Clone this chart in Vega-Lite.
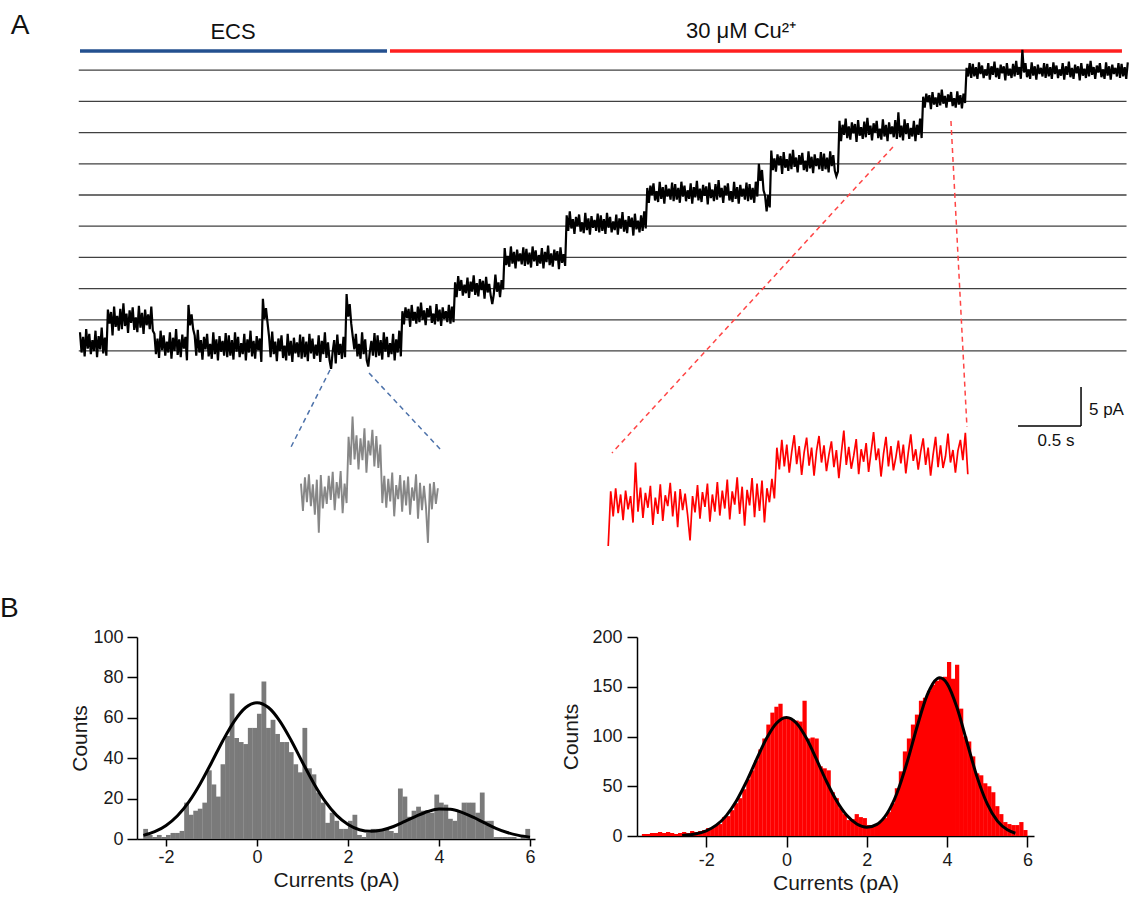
{
"$schema": "https://vega.github.io/schema/vega-lite/v6.json",
"padding": 0,
"background": "white",
"spacing": 35,
"config": {
 "view": {"stroke": null},
 "font": "Liberation Sans",
 "axis": {"domainColor": "#000", "tickColor": "#000", "domainWidth": 1.5, "tickWidth": 1.5, "labelFontSize": 18, "titleFontSize": 21, "titleFontWeight": "normal", "labelColor": "#1a1a1a", "titleColor": "#1a1a1a", "labelFont": "Liberation Sans", "titleFont": "Liberation Sans", "grid": false},
 "title": {"font": "Liberation Sans"}
},
"datasets": {
 "grid": [{"t":-10,"t2":8440,"v":0,"v2":0},{"t":-10,"t2":8440,"v":4,"v2":4},{"t":-10,"t2":8440,"v":8,"v2":8},{"t":-10,"t2":8440,"v":12,"v2":12},{"t":-10,"t2":8440,"v":16,"v2":16},{"t":-10,"t2":8440,"v":20,"v2":20},{"t":-10,"t2":8440,"v":24,"v2":24},{"t":-10,"t2":8440,"v":28,"v2":28},{"t":-10,"t2":8440,"v":32,"v2":32},{"t":-10,"t2":8440,"v":36,"v2":36}],
 "cond": [{"t":0,"t2":2476,"v":38.46,"v2":38.46,"g":"b"},{"t":2500,"t2":8403,"v":38.46,"v2":38.46,"g":"r"}],
 "conn": [{"t":2016,"v":-2.44,"t2":1702,"v2":-12.31,"g":"b"},{"t":2331,"v":-2.82,"t2":2911,"v2":-12.69,"g":"b"},{"t":6556,"v":26.15,"t2":4290,"v2":-13.08,"g":"r"},{"t":7024,"v":29.49,"t2":7153,"v2":-9.74,"g":"r"}],
 "sbar": [{"t":8073,"t2":8073,"v":-4.62,"v2":-9.62},{"t":7565,"t2":8073,"v":-9.62,"v2":-9.62}],
 "lab": [{"t":-484,"v":41.67,"txt":"A","k":"p"},{"t":1234,"v":40.9,"txt":"ECS","k":"c"},{"t":5331,"v":41.0,"txt":"30 μM Cu²⁺","k":"c"},{"t":8137,"v":-7.63,"txt":"5 pA","k":"l"},{"t":7871,"v":-11.6,"txt":"0.5 s","k":"s"}],
 "trace": [
{"t":0,"v":2.4},{"t":12.5,"v":-0.2},{"t":25,"v":1.8},{"t":37.5,"v":-0.7},{"t":50,"v":2.8},{"t":62.5,"v":0.3},{"t":75,"v":2.2},{"t":87.5,"v":-0.4},{"t":100,"v":1.4},{"t":112.5,"v":0.0},{"t":125,"v":2.6},{"t":137.5,"v":-0.8},{"t":150,"v":1.9},{"t":162.5,"v":0.2},{"t":175,"v":3.0},{"t":187.5,"v":-0.3},{"t":200,"v":1.7},{"t":212.5,"v":-0.6},
{"t":225,"v":5.3},{"t":237.5,"v":3.5},{"t":250,"v":5.0},{"t":262.5,"v":2.0},{"t":275,"v":5.7},{"t":287.5,"v":3.1},{"t":300,"v":4.5},{"t":312.5,"v":2.6},{"t":325,"v":5.4},{"t":337.5,"v":2.8},{"t":350,"v":6.1},{"t":362.5,"v":3.2},{"t":375,"v":4.8},{"t":387.5,"v":2.3},{"t":400,"v":5.2},{"t":412.5,"v":3.6},{"t":425,"v":5.6},{"t":437.5,"v":2.7},{"t":450,"v":4.3},{"t":462.5,"v":2.4},{"t":475,"v":5.8},{"t":487.5,"v":3.0},{"t":500,"v":4.9},{"t":512.5,"v":2.2},{"t":525,"v":5.3},{"t":537.5,"v":3.3},{"t":550,"v":4.7},{"t":562.5,"v":2.8},{"t":575,"v":5.7},{"t":587.5,"v":2.6},
{"t":600,"v":2.2},{"t":612.5,"v":-0.4},{"t":625,"v":1.6},{"t":637.5,"v":-0.9},{"t":650,"v":2.6},{"t":662.5,"v":0.1},{"t":675,"v":2.0},{"t":687.5,"v":-0.6},{"t":700,"v":1.2},{"t":712.5,"v":-0.2},{"t":725,"v":2.4},{"t":737.5,"v":-1.0},{"t":750,"v":1.7},{"t":762.5,"v":0.0},{"t":775,"v":2.8},{"t":787.5,"v":-0.5},{"t":800,"v":1.5},{"t":812.5,"v":-0.8},{"t":825,"v":2.1},{"t":837.5,"v":0.3},{"t":850,"v":1.8},{"t":862.5,"v":-1.2},
{"t":875,"v":5.9},{"t":887.5,"v":3.3},{"t":900,"v":4.7},{"t":912.5,"v":2.8},
{"t":925,"v":2.0},{"t":937.5,"v":-0.6},{"t":950,"v":2.7},{"t":962.5,"v":-0.2},{"t":975,"v":1.4},{"t":987.5,"v":-1.1},{"t":1000,"v":1.8},{"t":1012.5,"v":0.2},{"t":1025,"v":2.2},{"t":1037.5,"v":-0.7},{"t":1050,"v":0.9},{"t":1062.5,"v":-1.0},{"t":1075,"v":2.4},{"t":1087.5,"v":-0.4},{"t":1100,"v":1.5},{"t":1112.5,"v":-1.2},{"t":1125,"v":1.9},{"t":1137.5,"v":-0.1},{"t":1150,"v":1.3},{"t":1162.5,"v":-0.6},{"t":1175,"v":2.3},{"t":1187.5,"v":-0.8},{"t":1200,"v":2.0},{"t":1212.5,"v":-0.6},{"t":1225,"v":1.4},{"t":1237.5,"v":-1.1},{"t":1250,"v":2.4},{"t":1262.5,"v":-0.1},{"t":1275,"v":1.8},{"t":1287.5,"v":-0.8},{"t":1300,"v":1.0},{"t":1312.5,"v":-0.4},{"t":1325,"v":2.2},{"t":1337.5,"v":-1.2},{"t":1350,"v":1.5},{"t":1362.5,"v":-0.2},{"t":1375,"v":2.6},{"t":1387.5,"v":-0.7},{"t":1400,"v":1.3},{"t":1412.5,"v":-1.0},{"t":1425,"v":1.9},{"t":1437.5,"v":0.1},{"t":1450,"v":1.6},{"t":1462.5,"v":-1.4},
{"t":1475,"v":6.7},{"t":1487.5,"v":4.1},{"t":1500,"v":5.5},{"t":1512.5,"v":3.6},
{"t":1525,"v":1.8},{"t":1537.5,"v":-0.8},{"t":1550,"v":2.5},{"t":1562.5,"v":-0.4},{"t":1575,"v":1.2},{"t":1587.5,"v":-1.3},{"t":1600,"v":1.6},{"t":1612.5,"v":0.0},{"t":1625,"v":2.0},{"t":1637.5,"v":-0.9},{"t":1650,"v":0.7},{"t":1662.5,"v":-1.2},{"t":1675,"v":2.2},{"t":1687.5,"v":-0.6},{"t":1700,"v":1.3},{"t":1712.5,"v":-1.4},{"t":1725,"v":1.7},{"t":1737.5,"v":-0.3},{"t":1750,"v":1.1},{"t":1762.5,"v":-0.8},{"t":1775,"v":2.1},{"t":1787.5,"v":-1.0},{"t":1800,"v":1.8},{"t":1812.5,"v":-0.8},{"t":1825,"v":1.2},{"t":1837.5,"v":-1.3},{"t":1850,"v":2.2},{"t":1862.5,"v":-0.3},{"t":1875,"v":1.6},{"t":1887.5,"v":-1.0},{"t":1900,"v":0.8},{"t":1912.5,"v":-0.6},{"t":1925,"v":2.0},{"t":1937.5,"v":-1.4},{"t":1950,"v":1.3},{"t":1962.5,"v":-0.4},{"t":1975,"v":2.4},{"t":1987.5,"v":-0.9},{"t":2000,"v":1.1},{"t":2012.5,"v":-1.2},{"t":2025,"v":-2.3},{"t":2037.5,"v":-0.1},{"t":2050,"v":1.4},{"t":2062.5,"v":-1.6},{"t":2075,"v":2.1},{"t":2087.5,"v":-0.5},{"t":2100,"v":0.9},{"t":2112.5,"v":-1.0},{"t":2125,"v":1.8},{"t":2137.5,"v":-0.8},
{"t":2150,"v":7.3},{"t":2162.5,"v":4.4},{"t":2175,"v":6.0},{"t":2187.5,"v":3.5},
{"t":2200,"v":1.8},{"t":2212.5,"v":0.2},{"t":2225,"v":2.2},{"t":2237.5,"v":-0.7},{"t":2250,"v":0.9},{"t":2262.5,"v":-1.0},{"t":2275,"v":2.4},{"t":2287.5,"v":-0.4},{"t":2300,"v":1.5},{"t":2312.5,"v":-1.2},{"t":2325,"v":-2.0},{"t":2337.5,"v":-0.1},{"t":2350,"v":1.3},{"t":2362.5,"v":-0.6},{"t":2375,"v":2.3},{"t":2387.5,"v":-0.8},{"t":2400,"v":2.0},{"t":2412.5,"v":-0.6},{"t":2425,"v":1.4},{"t":2437.5,"v":-1.1},{"t":2450,"v":2.4},{"t":2462.5,"v":-0.1},{"t":2475,"v":1.8},{"t":2487.5,"v":-0.8},{"t":2500,"v":1.0},{"t":2512.5,"v":-0.4},{"t":2525,"v":2.2},{"t":2537.5,"v":-1.2},{"t":2550,"v":1.5},{"t":2562.5,"v":-0.2},{"t":2575,"v":2.6},{"t":2587.5,"v":-0.7},
{"t":2600,"v":5.1},{"t":2612.5,"v":3.4},{"t":2625,"v":5.6},{"t":2637.5,"v":4.2},{"t":2650,"v":5.4},{"t":2662.5,"v":3.1},{"t":2675,"v":5.9},{"t":2687.5,"v":3.9},{"t":2700,"v":5.0},{"t":2712.5,"v":3.5},{"t":2725,"v":5.7},{"t":2737.5,"v":3.7},{"t":2750,"v":6.2},{"t":2762.5,"v":4.0},{"t":2775,"v":5.2},{"t":2787.5,"v":3.3},{"t":2800,"v":5.5},{"t":2812.5,"v":4.3},{"t":2825,"v":5.8},{"t":2837.5,"v":3.6},{"t":2850,"v":4.8},{"t":2862.5,"v":3.4},{"t":2875,"v":6.0},{"t":2887.5,"v":3.8},{"t":2900,"v":5.3},{"t":2912.5,"v":3.2},{"t":2925,"v":5.6},{"t":2937.5,"v":4.1},{"t":2950,"v":5.1},{"t":2962.5,"v":3.7},{"t":2975,"v":5.9},{"t":2987.5,"v":3.5},{"t":3000,"v":5.7},{"t":3012.5,"v":3.7},
{"t":3025,"v":8.8},{"t":3037.5,"v":6.9},{"t":3050,"v":9.6},{"t":3062.5,"v":7.7},{"t":3075,"v":9.1},{"t":3087.5,"v":7.1},{"t":3100,"v":8.5},{"t":3112.5,"v":7.4},{"t":3125,"v":9.4},{"t":3137.5,"v":6.8},{"t":3150,"v":8.9},{"t":3162.5,"v":7.6},{"t":3175,"v":9.7},{"t":3187.5,"v":7.2},{"t":3200,"v":8.7},{"t":3212.5,"v":7.0},{"t":3225,"v":9.2},{"t":3237.5,"v":7.8},{"t":3250,"v":9.0},{"t":3262.5,"v":6.7},{"t":3275,"v":9.5},{"t":3287.5,"v":7.5},{"t":3300,"v":8.6},{"t":3312.5,"v":7.1},{"t":3325,"v":6.0},{"t":3337.5,"v":7.3},{"t":3350,"v":9.8},{"t":3362.5,"v":7.6},{"t":3375,"v":8.8},{"t":3387.5,"v":6.9},{"t":3400,"v":9.1},{"t":3412.5,"v":7.9},
{"t":3425,"v":13.2},{"t":3437.5,"v":11.0},{"t":3450,"v":12.2},{"t":3462.5,"v":10.8},{"t":3475,"v":13.4},{"t":3487.5,"v":11.2},{"t":3500,"v":12.7},{"t":3512.5,"v":10.6},{"t":3525,"v":13.0},{"t":3537.5,"v":11.5},{"t":3550,"v":12.5},{"t":3562.5,"v":11.1},{"t":3575,"v":13.3},{"t":3587.5,"v":10.9},{"t":3600,"v":13.1},{"t":3612.5,"v":11.1},{"t":3625,"v":12.6},{"t":3637.5,"v":10.7},{"t":3650,"v":13.4},{"t":3662.5,"v":11.5},{"t":3675,"v":12.9},{"t":3687.5,"v":10.9},{"t":3700,"v":12.3},{"t":3712.5,"v":11.2},{"t":3725,"v":13.2},{"t":3737.5,"v":10.6},{"t":3750,"v":12.7},{"t":3762.5,"v":11.4},{"t":3775,"v":13.5},{"t":3787.5,"v":11.0},{"t":3800,"v":12.5},{"t":3812.5,"v":10.8},{"t":3825,"v":13.0},{"t":3837.5,"v":11.6},{"t":3850,"v":12.8},{"t":3862.5,"v":10.5},{"t":3875,"v":13.3},{"t":3887.5,"v":11.3},{"t":3900,"v":12.4},{"t":3912.5,"v":10.9},
{"t":3925,"v":17.4},{"t":3937.5,"v":15.4},{"t":3950,"v":17.9},{"t":3962.5,"v":15.7},{"t":3975,"v":16.9},{"t":3987.5,"v":15.0},{"t":4000,"v":17.2},{"t":4012.5,"v":16.0},{"t":4025,"v":17.5},{"t":4037.5,"v":15.3},{"t":4050,"v":16.5},{"t":4062.5,"v":15.1},{"t":4075,"v":17.7},{"t":4087.5,"v":15.5},{"t":4100,"v":17.0},{"t":4112.5,"v":14.9},{"t":4125,"v":17.3},{"t":4137.5,"v":15.8},{"t":4150,"v":16.8},{"t":4162.5,"v":15.4},{"t":4175,"v":17.6},{"t":4187.5,"v":15.2},{"t":4200,"v":17.4},{"t":4212.5,"v":15.4},{"t":4225,"v":16.9},{"t":4237.5,"v":15.0},{"t":4250,"v":17.7},{"t":4262.5,"v":15.8},{"t":4275,"v":17.2},{"t":4287.5,"v":15.2},{"t":4300,"v":16.6},{"t":4312.5,"v":15.5},{"t":4325,"v":17.5},{"t":4337.5,"v":14.9},{"t":4350,"v":17.0},{"t":4362.5,"v":15.7},{"t":4375,"v":17.8},{"t":4387.5,"v":15.3},{"t":4400,"v":16.8},{"t":4412.5,"v":15.1},{"t":4425,"v":17.3},{"t":4437.5,"v":15.9},{"t":4450,"v":17.1},{"t":4462.5,"v":14.8},{"t":4475,"v":17.6},{"t":4487.5,"v":15.6},{"t":4500,"v":16.7},{"t":4512.5,"v":15.2},{"t":4525,"v":17.4},{"t":4537.5,"v":15.4},{"t":4550,"v":17.9},{"t":4562.5,"v":15.7},
{"t":4575,"v":20.9},{"t":4587.5,"v":19.0},{"t":4600,"v":21.2},{"t":4612.5,"v":20.0},{"t":4625,"v":21.5},{"t":4637.5,"v":19.3},{"t":4650,"v":20.5},{"t":4662.5,"v":19.1},{"t":4675,"v":21.7},{"t":4687.5,"v":19.5},{"t":4700,"v":21.0},{"t":4712.5,"v":18.9},{"t":4725,"v":21.3},{"t":4737.5,"v":19.8},{"t":4750,"v":20.8},{"t":4762.5,"v":19.4},{"t":4775,"v":21.6},{"t":4787.5,"v":19.2},{"t":4800,"v":21.4},{"t":4812.5,"v":19.4},{"t":4825,"v":20.9},{"t":4837.5,"v":19.0},{"t":4850,"v":21.7},{"t":4862.5,"v":19.8},{"t":4875,"v":21.2},{"t":4887.5,"v":19.2},{"t":4900,"v":20.6},{"t":4912.5,"v":19.5},{"t":4925,"v":21.5},{"t":4937.5,"v":18.9},{"t":4950,"v":21.0},{"t":4962.5,"v":19.7},{"t":4975,"v":21.8},{"t":4987.5,"v":19.3},{"t":5000,"v":20.8},{"t":5012.5,"v":19.1},{"t":5025,"v":21.3},{"t":5037.5,"v":19.9},{"t":5050,"v":21.1},{"t":5062.5,"v":18.8},{"t":5075,"v":21.6},{"t":5087.5,"v":19.6},{"t":5100,"v":20.7},{"t":5112.5,"v":19.2},{"t":5125,"v":21.4},{"t":5137.5,"v":19.4},{"t":5150,"v":21.9},{"t":5162.5,"v":19.7},{"t":5175,"v":20.9},{"t":5187.5,"v":19.0},{"t":5200,"v":21.2},{"t":5212.5,"v":20.0},{"t":5225,"v":21.5},{"t":5237.5,"v":19.3},{"t":5250,"v":20.5},{"t":5262.5,"v":19.1},{"t":5275,"v":21.7},{"t":5287.5,"v":19.5},{"t":5300,"v":21.0},{"t":5312.5,"v":18.9},{"t":5325,"v":21.3},{"t":5337.5,"v":19.8},{"t":5350,"v":20.8},{"t":5362.5,"v":19.4},{"t":5375,"v":21.6},{"t":5387.5,"v":19.2},{"t":5400,"v":21.4},{"t":5412.5,"v":19.4},{"t":5425,"v":20.9},{"t":5437.5,"v":19.0},{"t":5450,"v":21.7},{"t":5462.5,"v":19.8},
{"t":5475,"v":24.0},{"t":5487.5,"v":21.8},{"t":5500,"v":23.2},{"t":5512.5,"v":20.6},{"t":5525,"v":19.9},{"t":5537.5,"v":17.9},{"t":5550,"v":20.0},{"t":5562.5,"v":18.4},
{"t":5575,"v":25.7},{"t":5587.5,"v":23.2},{"t":5600,"v":24.7},{"t":5612.5,"v":23.0},{"t":5625,"v":25.2},{"t":5637.5,"v":23.8},{"t":5650,"v":25.0},{"t":5662.5,"v":22.7},{"t":5675,"v":25.5},{"t":5687.5,"v":23.5},{"t":5700,"v":24.6},{"t":5712.5,"v":23.1},{"t":5725,"v":25.3},{"t":5737.5,"v":23.3},{"t":5750,"v":25.8},{"t":5762.5,"v":23.6},{"t":5775,"v":24.8},{"t":5787.5,"v":22.9},{"t":5800,"v":25.1},{"t":5812.5,"v":23.9},{"t":5825,"v":25.4},{"t":5837.5,"v":23.2},{"t":5850,"v":24.4},{"t":5862.5,"v":23.0},{"t":5875,"v":25.6},{"t":5887.5,"v":23.4},{"t":5900,"v":24.9},{"t":5912.5,"v":22.8},{"t":5925,"v":25.2},{"t":5937.5,"v":23.7},{"t":5950,"v":24.7},{"t":5962.5,"v":23.3},{"t":5975,"v":25.5},{"t":5987.5,"v":23.1},{"t":6000,"v":25.3},{"t":6012.5,"v":23.3},{"t":6025,"v":24.8},{"t":6037.5,"v":22.9},{"t":6050,"v":25.6},{"t":6062.5,"v":23.7},{"t":6075,"v":25.1},{"t":6087.5,"v":23.1},{"t":6100,"v":22.4},{"t":6112.5,"v":23.0},
{"t":6125,"v":29.5},{"t":6137.5,"v":26.9},{"t":6150,"v":29.0},{"t":6162.5,"v":27.7},{"t":6175,"v":29.8},{"t":6187.5,"v":27.3},{"t":6200,"v":28.8},{"t":6212.5,"v":27.1},{"t":6225,"v":29.3},{"t":6237.5,"v":27.9},{"t":6250,"v":29.1},{"t":6262.5,"v":26.8},{"t":6275,"v":29.6},{"t":6287.5,"v":27.6},{"t":6300,"v":28.7},{"t":6312.5,"v":27.2},{"t":6325,"v":29.4},{"t":6337.5,"v":27.4},{"t":6350,"v":29.9},{"t":6362.5,"v":27.7},{"t":6375,"v":28.9},{"t":6387.5,"v":27.0},{"t":6400,"v":29.2},{"t":6412.5,"v":28.0},{"t":6425,"v":29.5},{"t":6437.5,"v":27.3},{"t":6450,"v":28.5},{"t":6462.5,"v":27.1},{"t":6475,"v":29.7},{"t":6487.5,"v":27.5},{"t":6500,"v":29.0},{"t":6512.5,"v":26.9},{"t":6525,"v":29.3},{"t":6537.5,"v":27.8},{"t":6550,"v":28.8},{"t":6562.5,"v":27.4},{"t":6575,"v":29.6},{"t":6587.5,"v":27.2},{"t":6600,"v":30.6},{"t":6612.5,"v":27.4},{"t":6625,"v":28.9},{"t":6637.5,"v":27.0},{"t":6650,"v":29.7},{"t":6662.5,"v":27.8},{"t":6675,"v":29.2},{"t":6687.5,"v":27.2},{"t":6700,"v":28.6},{"t":6712.5,"v":27.5},{"t":6725,"v":29.5},{"t":6737.5,"v":26.9},{"t":6750,"v":29.0},{"t":6762.5,"v":27.7},{"t":6775,"v":29.8},{"t":6787.5,"v":27.3},
{"t":6800,"v":32.6},{"t":6812.5,"v":31.2},{"t":6825,"v":33.0},{"t":6837.5,"v":31.9},{"t":6850,"v":32.8},{"t":6862.5,"v":31.0},{"t":6875,"v":33.2},{"t":6887.5,"v":31.6},{"t":6900,"v":32.5},{"t":6912.5,"v":31.3},{"t":6925,"v":33.1},{"t":6937.5,"v":31.5},{"t":6950,"v":33.5},{"t":6962.5,"v":31.7},{"t":6975,"v":32.7},{"t":6987.5,"v":31.2},{"t":7000,"v":32.9},{"t":7012.5,"v":32.0},{"t":7025,"v":33.2},{"t":7037.5,"v":31.4},{"t":7050,"v":32.4},{"t":7062.5,"v":31.2},{"t":7075,"v":33.3},{"t":7087.5,"v":31.6},{"t":7100,"v":32.8},{"t":7112.5,"v":31.1},{"t":7125,"v":33.0},{"t":7137.5,"v":31.8},
{"t":7150,"v":36.3},{"t":7162.5,"v":35.2},{"t":7175,"v":36.9},{"t":7187.5,"v":35.0},{"t":7200,"v":36.8},{"t":7212.5,"v":35.2},{"t":7225,"v":36.4},{"t":7237.5,"v":34.9},{"t":7250,"v":37.0},{"t":7262.5,"v":35.5},{"t":7275,"v":36.6},{"t":7287.5,"v":35.0},{"t":7300,"v":36.1},{"t":7312.5,"v":35.3},{"t":7325,"v":36.9},{"t":7337.5,"v":34.8},{"t":7350,"v":36.5},{"t":7362.5,"v":35.4},{"t":7375,"v":37.1},{"t":7387.5,"v":35.1},{"t":7400,"v":36.3},{"t":7412.5,"v":34.9},{"t":7425,"v":36.7},{"t":7437.5,"v":35.6},{"t":7450,"v":36.5},{"t":7462.5,"v":34.7},{"t":7475,"v":36.9},{"t":7487.5,"v":35.3},{"t":7500,"v":36.2},{"t":7512.5,"v":35.0},{"t":7525,"v":36.8},{"t":7537.5,"v":35.2},{"t":7550,"v":37.2},{"t":7562.5,"v":35.4},{"t":7575,"v":36.4},{"t":7587.5,"v":34.9},{"t":7600,"v":38.6},{"t":7612.5,"v":35.7},{"t":7625,"v":36.9},{"t":7637.5,"v":35.1},{"t":7650,"v":36.1},{"t":7662.5,"v":34.9},{"t":7675,"v":37.0},{"t":7687.5,"v":35.3},{"t":7700,"v":36.5},{"t":7712.5,"v":34.8},{"t":7725,"v":36.7},{"t":7737.5,"v":35.5},{"t":7750,"v":36.3},{"t":7762.5,"v":35.2},{"t":7775,"v":36.9},{"t":7787.5,"v":35.0},{"t":7800,"v":36.8},{"t":7812.5,"v":35.2},{"t":7825,"v":36.4},{"t":7837.5,"v":34.9},{"t":7850,"v":37.0},{"t":7862.5,"v":35.5},{"t":7875,"v":36.6},{"t":7887.5,"v":35.0},{"t":7900,"v":36.1},{"t":7912.5,"v":35.3},{"t":7925,"v":36.9},{"t":7937.5,"v":34.8},{"t":7950,"v":36.5},{"t":7962.5,"v":35.4},{"t":7975,"v":37.1},{"t":7987.5,"v":35.1},{"t":8000,"v":36.3},{"t":8012.5,"v":34.9},{"t":8025,"v":36.7},{"t":8037.5,"v":35.6},{"t":8050,"v":36.5},{"t":8062.5,"v":34.7},{"t":8075,"v":36.9},{"t":8087.5,"v":35.3},{"t":8100,"v":36.2},{"t":8112.5,"v":35.0},{"t":8125,"v":36.8},{"t":8137.5,"v":35.2},{"t":8150,"v":37.2},{"t":8162.5,"v":35.4},{"t":8175,"v":36.4},{"t":8187.5,"v":34.9},{"t":8200,"v":36.6},{"t":8212.5,"v":35.7},{"t":8225,"v":36.9},{"t":8237.5,"v":35.1},{"t":8250,"v":36.1},{"t":8262.5,"v":34.9},{"t":8275,"v":37.0},{"t":8287.5,"v":35.3},{"t":8300,"v":36.5},{"t":8312.5,"v":34.8},{"t":8325,"v":36.7},{"t":8337.5,"v":35.5},{"t":8350,"v":36.3},{"t":8362.5,"v":35.2},{"t":8375,"v":36.9},{"t":8387.5,"v":35.0},{"t":8400,"v":36.8},{"t":8412.5,"v":35.2},{"t":8425,"v":36.4},{"t":8437.5,"v":34.9},{"t":8450,"v":37.0}],
 "gray": [
{"t":1782,"v":-17.0},{"t":1798,"v":-20.5},{"t":1814,"v":-16.2},{"t":1830,"v":-19.4},{"t":1846,"v":-15.8},{"t":1862,"v":-19.9},{"t":1878,"v":-17.1},{"t":1894,"v":-21.0},{"t":1910,"v":-16.5},{"t":1926,"v":-23.3},{"t":1942,"v":-15.9},{"t":1958,"v":-20.2},{"t":1974,"v":-17.4},{"t":1990,"v":-19.6},{"t":2006,"v":-16.0},{"t":2022,"v":-19.1},{"t":2038,"v":-15.5},{"t":2054,"v":-20.4},{"t":2070,"v":-16.8},{"t":2086,"v":-18.9},{"t":2102,"v":-15.4},{"t":2118,"v":-20.8},{"t":2134,"v":-17.0},{"t":2150,"v":-19.5},{"t":2166,"v":-11.0},{"t":2182,"v":-14.6},{"t":2198,"v":-8.4},{"t":2214,"v":-13.9},{"t":2230,"v":-10.8},{"t":2246,"v":-15.2},{"t":2262,"v":-11.2},{"t":2278,"v":-14.0},{"t":2294,"v":-9.9},{"t":2310,"v":-15.6},{"t":2326,"v":-11.5},{"t":2342,"v":-13.4},{"t":2358,"v":-10.1},{"t":2374,"v":-14.8},{"t":2390,"v":-10.9},{"t":2406,"v":-15.0},{"t":2422,"v":-12.0},{"t":2438,"v":-19.5},{"t":2454,"v":-16.0},{"t":2470,"v":-20.1},{"t":2486,"v":-16.4},{"t":2502,"v":-19.3},{"t":2518,"v":-15.6},{"t":2534,"v":-21.2},{"t":2550,"v":-17.2},{"t":2566,"v":-19.0},{"t":2582,"v":-15.9},{"t":2598,"v":-20.6},{"t":2614,"v":-16.6},{"t":2630,"v":-19.8},{"t":2646,"v":-16.1},{"t":2662,"v":-21.0},{"t":2678,"v":-17.5},{"t":2694,"v":-19.2},{"t":2710,"v":-15.8},{"t":2726,"v":-21.5},{"t":2742,"v":-16.9},{"t":2758,"v":-20.4},{"t":2774,"v":-17.3},{"t":2790,"v":-20.0},{"t":2806,"v":-24.6},{"t":2822,"v":-17.0},{"t":2838,"v":-20.3},{"t":2854,"v":-16.8},{"t":2870,"v":-19.6},{"t":2886,"v":-17.6}],
 "red": [
{"t":4260,"v":-25.0},{"t":4280,"v":-18.0},{"t":4300,"v":-21.2},{"t":4320,"v":-17.6},{"t":4340,"v":-20.8},{"t":4360,"v":-18.4},{"t":4380,"v":-21.7},{"t":4400,"v":-17.9},{"t":4420,"v":-20.3},{"t":4440,"v":-18.6},{"t":4460,"v":-22.0},{"t":4480,"v":-14.3},{"t":4500,"v":-20.6},{"t":4520,"v":-17.5},{"t":4540,"v":-21.4},{"t":4560,"v":-18.2},{"t":4580,"v":-20.1},{"t":4600,"v":-17.3},{"t":4620,"v":-22.3},{"t":4640,"v":-18.8},{"t":4660,"v":-20.9},{"t":4680,"v":-17.1},{"t":4700,"v":-21.8},{"t":4720,"v":-18.5},{"t":4740,"v":-19.9},{"t":4760,"v":-16.9},{"t":4780,"v":-21.2},{"t":4800,"v":-18.0},{"t":4820,"v":-22.6},{"t":4840,"v":-17.7},{"t":4860,"v":-20.4},{"t":4880,"v":-18.3},{"t":4900,"v":-21.0},{"t":4920,"v":-24.3},{"t":4940,"v":-18.6},{"t":4960,"v":-20.7},{"t":4980,"v":-17.2},{"t":5000,"v":-21.5},{"t":5020,"v":-18.1},{"t":5040,"v":-20.0},{"t":5060,"v":-17.0},{"t":5080,"v":-21.9},{"t":5100,"v":-18.4},{"t":5120,"v":-20.6},{"t":5140,"v":-16.8},{"t":5160,"v":-21.1},{"t":5180,"v":-17.9},{"t":5200,"v":-20.2},{"t":5220,"v":-16.5},{"t":5240,"v":-21.6},{"t":5260,"v":-18.0},{"t":5280,"v":-19.7},{"t":5300,"v":-16.2},{"t":5320,"v":-20.9},{"t":5340,"v":-17.4},{"t":5360,"v":-22.4},{"t":5380,"v":-17.8},{"t":5400,"v":-19.8},{"t":5420,"v":-16.3},{"t":5440,"v":-21.3},{"t":5460,"v":-17.0},{"t":5480,"v":-20.5},{"t":5500,"v":-16.6},{"t":5520,"v":-22.0},{"t":5540,"v":-17.6},{"t":5560,"v":-19.4},{"t":5580,"v":-16.4},{"t":5600,"v":-18.9},{"t":5620,"v":-12.4},{"t":5640,"v":-15.2},{"t":5660,"v":-11.4},{"t":5680,"v":-14.8},{"t":5700,"v":-12.0},{"t":5720,"v":-15.6},{"t":5740,"v":-12.9},{"t":5760,"v":-10.8},{"t":5780,"v":-14.5},{"t":5800,"v":-12.2},{"t":5820,"v":-15.9},{"t":5840,"v":-13.0},{"t":5860,"v":-11.1},{"t":5880,"v":-14.7},{"t":5900,"v":-12.4},{"t":5920,"v":-16.0},{"t":5940,"v":-12.8},{"t":5960,"v":-10.9},{"t":5980,"v":-14.3},{"t":6000,"v":-12.1},{"t":6020,"v":-15.4},{"t":6040,"v":-13.3},{"t":6060,"v":-11.6},{"t":6080,"v":-14.9},{"t":6100,"v":-12.7},{"t":6120,"v":-16.3},{"t":6140,"v":-13.1},{"t":6160,"v":-10.2},{"t":6180,"v":-14.6},{"t":6200,"v":-12.3},{"t":6220,"v":-15.1},{"t":6240,"v":-13.4},{"t":6260,"v":-11.3},{"t":6280,"v":-15.8},{"t":6300,"v":-12.6},{"t":6320,"v":-14.2},{"t":6340,"v":-11.8},{"t":6360,"v":-15.5},{"t":6380,"v":-12.9},{"t":6400,"v":-10.4},{"t":6420,"v":-14.0},{"t":6440,"v":-12.5},{"t":6460,"v":-16.1},{"t":6480,"v":-13.2},{"t":6500,"v":-11.0},{"t":6520,"v":-14.8},{"t":6540,"v":-12.2},{"t":6560,"v":-15.3},{"t":6580,"v":-13.6},{"t":6600,"v":-11.5},{"t":6620,"v":-14.4},{"t":6640,"v":-12.0},{"t":6660,"v":-15.7},{"t":6680,"v":-13.0},{"t":6700,"v":-10.7},{"t":6720,"v":-14.1},{"t":6740,"v":-12.6},{"t":6760,"v":-15.2},{"t":6780,"v":-12.9},{"t":6800,"v":-11.2},{"t":6820,"v":-14.6},{"t":6840,"v":-12.4},{"t":6860,"v":-16.0},{"t":6880,"v":-13.3},{"t":6900,"v":-11.0},{"t":6920,"v":-14.9},{"t":6940,"v":-12.1},{"t":6960,"v":-15.0},{"t":6980,"v":-13.5},{"t":7000,"v":-10.6},{"t":7020,"v":-14.3},{"t":7040,"v":-12.7},{"t":7060,"v":-15.6},{"t":7080,"v":-12.8},{"t":7100,"v":-11.4},{"t":7120,"v":-14.0},{"t":7140,"v":-10.5},{"t":7160,"v":-15.8}],
 "hl": [{"x":-2.45,"c":5},{"x":-2.35,"c":2},{"x":-2.25,"c":1},{"x":-2.15,"c":2},{"x":-2.05,"c":1},{"x":-1.95,"c":2},{"x":-1.85,"c":3},{"x":-1.75,"c":3},{"x":-1.65,"c":4},{"x":-1.55,"c":18},{"x":-1.45,"c":12},{"x":-1.35,"c":14},{"x":-1.25,"c":15},{"x":-1.15,"c":18},{"x":-1.05,"c":34},{"x":-0.95,"c":27},{"x":-0.85,"c":21},{"x":-0.75,"c":37},{"x":-0.65,"c":51},{"x":-0.55,"c":72},{"x":-0.45,"c":50},{"x":-0.35,"c":48},{"x":-0.25,"c":47},{"x":-0.15,"c":55},{"x":-0.05,"c":55},{"x":0.05,"c":62},{"x":0.15,"c":78},{"x":0.25,"c":55},{"x":0.35,"c":59},{"x":0.45,"c":52},{"x":0.55,"c":48},{"x":0.65,"c":48},{"x":0.75,"c":43},{"x":0.85,"c":37},{"x":0.95,"c":33},{"x":1.05,"c":55},{"x":1.15,"c":35},{"x":1.25,"c":32},{"x":1.35,"c":23},{"x":1.45,"c":18},{"x":1.55,"c":8},{"x":1.65,"c":13},{"x":1.75,"c":9},{"x":1.85,"c":5},{"x":1.95,"c":5},{"x":2.05,"c":9},{"x":2.15,"c":12},{"x":2.25,"c":2},{"x":2.35,"c":1},{"x":2.45,"c":3},{"x":2.55,"c":5},{"x":2.65,"c":5},{"x":2.75,"c":4},{"x":2.85,"c":5},{"x":2.95,"c":4},{"x":3.05,"c":3},{"x":3.15,"c":25},{"x":3.25,"c":21},{"x":3.35,"c":11},{"x":3.45,"c":14},{"x":3.55,"c":16},{"x":3.65,"c":14},{"x":3.75,"c":14},{"x":3.85,"c":13},{"x":3.95,"c":22},{"x":4.05,"c":18},{"x":4.15,"c":17},{"x":4.25,"c":10},{"x":4.35,"c":9},{"x":4.45,"c":14},{"x":4.55,"c":18},{"x":4.65,"c":18},{"x":4.75,"c":18},{"x":4.85,"c":13},{"x":4.95,"c":23},{"x":5.05,"c":9},{"x":5.15,"c":9},{"x":5.25,"c":1},{"x":5.35,"c":1},{"x":5.45,"c":1},{"x":5.55,"c":1},{"x":5.65,"c":1},{"x":5.75,"c":0},{"x":5.85,"c":1},{"x":5.95,"c":5}],
 "hlfit": [{"x":-2.5,"c":1.8},{"x":-2.25,"c":3.6},{"x":-2.0,"c":6.7},{"x":-1.75,"c":11.5},{"x":-1.5,"c":18.4},{"x":-1.25,"c":27.4},{"x":-1.0,"c":37.9},{"x":-0.75,"c":48.8},{"x":-0.5,"c":58.4},{"x":-0.25,"c":65.1},{"x":0,"c":67.5},{"x":0.25,"c":65.1},{"x":0.5,"c":58.4},{"x":0.75,"c":48.8},{"x":1.0,"c":37.9},{"x":1.25,"c":27.4},{"x":1.5,"c":18.5},{"x":1.75,"c":11.7},{"x":2.0,"c":7.2},{"x":2.25,"c":4.6},{"x":2.5,"c":3.8},{"x":2.75,"c":4.5},{"x":3.0,"c":6.2},{"x":3.25,"c":8.7},{"x":3.5,"c":11.3},{"x":3.75,"c":13.6},{"x":4.0,"c":14.9},{"x":4.25,"c":14.7},{"x":4.5,"c":13.2},{"x":4.75,"c":10.8},{"x":5.0,"c":8.0},{"x":5.25,"c":5.3},{"x":5.5,"c":3.2},{"x":5.75,"c":1.8},{"x":6.0,"c":0.9}],
 "hr": [{"x":-3.55,"c":2},{"x":-3.45,"c":2},{"x":-3.35,"c":3},{"x":-3.25,"c":3},{"x":-3.15,"c":4},{"x":-3.05,"c":3},{"x":-2.95,"c":4},{"x":-2.85,"c":3},{"x":-2.75,"c":2},{"x":-2.65,"c":3},{"x":-2.55,"c":4},{"x":-2.45,"c":3},{"x":-2.35,"c":5},{"x":-2.25,"c":4},{"x":-2.15,"c":5},{"x":-2.05,"c":6},{"x":-1.95,"c":8},{"x":-1.85,"c":8},{"x":-1.75,"c":11},{"x":-1.65,"c":12},{"x":-1.55,"c":19},{"x":-1.45,"c":20},{"x":-1.35,"c":26},{"x":-1.25,"c":33},{"x":-1.15,"c":38},{"x":-1.05,"c":47},{"x":-0.95,"c":57},{"x":-0.85,"c":66},{"x":-0.75,"c":76},{"x":-0.65,"c":87},{"x":-0.55,"c":98},{"x":-0.45,"c":112},{"x":-0.35,"c":124},{"x":-0.25,"c":130},{"x":-0.15,"c":133},{"x":-0.05,"c":120},{"x":0.05,"c":118},{"x":0.15,"c":117},{"x":0.25,"c":116},{"x":0.35,"c":115},{"x":0.45,"c":136},{"x":0.55,"c":98},{"x":0.65,"c":99},{"x":0.75,"c":98},{"x":0.85,"c":70},{"x":0.95,"c":68},{"x":1.05,"c":66},{"x":1.15,"c":44},{"x":1.25,"c":38},{"x":1.35,"c":28},{"x":1.45,"c":22},{"x":1.55,"c":16},{"x":1.65,"c":17},{"x":1.75,"c":22},{"x":1.85,"c":19},{"x":1.95,"c":18},{"x":2.05,"c":11},{"x":2.15,"c":10},{"x":2.25,"c":12},{"x":2.35,"c":15},{"x":2.45,"c":18},{"x":2.55,"c":24},{"x":2.65,"c":33},{"x":2.75,"c":48},{"x":2.85,"c":65},{"x":2.95,"c":85},{"x":3.05,"c":98},{"x":3.15,"c":112},{"x":3.25,"c":122},{"x":3.35,"c":136},{"x":3.45,"c":139},{"x":3.55,"c":146},{"x":3.65,"c":152},{"x":3.75,"c":156},{"x":3.85,"c":159},{"x":3.95,"c":160},{"x":4.05,"c":175},{"x":4.15,"c":158},{"x":4.25,"c":172},{"x":4.35,"c":128},{"x":4.45,"c":100},{"x":4.55,"c":95},{"x":4.65,"c":80},{"x":4.75,"c":63},{"x":4.85,"c":61},{"x":4.95,"c":53},{"x":5.05,"c":50},{"x":5.15,"c":44},{"x":5.25,"c":30},{"x":5.35,"c":22},{"x":5.45,"c":14},{"x":5.55,"c":12},{"x":5.65,"c":11},{"x":5.75,"c":11},{"x":5.85,"c":14},{"x":5.95,"c":6}],
 "hrfit": [{"x":-2.6,"c":0.6},{"x":-2.25,"c":2.3},{"x":-2.0,"c":5.2},{"x":-1.75,"c":10.9},{"x":-1.5,"c":20.5},{"x":-1.25,"c":35.1},{"x":-1.0,"c":54.5},{"x":-0.75,"c":76.7},{"x":-0.5,"c":97.9},{"x":-0.25,"c":113.3},{"x":0,"c":119},{"x":0.25,"c":113.3},{"x":0.5,"c":97.9},{"x":0.75,"c":76.7},{"x":1.0,"c":54.5},{"x":1.25,"c":35.2},{"x":1.5,"c":20.8},{"x":1.75,"c":12.1},{"x":2.0,"c":8.8},{"x":2.25,"c":11.7},{"x":2.5,"c":22.4},{"x":2.75,"c":43.0},{"x":3.0,"c":73.6},{"x":3.25,"c":109.5},{"x":3.5,"c":141.4},{"x":3.75,"c":158.1},{"x":3.82,"c":159},{"x":4.0,"c":153.2},{"x":4.25,"c":128.6},{"x":4.5,"c":93.5},{"x":4.75,"c":58.9},{"x":5.0,"c":32.2},{"x":5.25,"c":15.2},{"x":5.5,"c":6.2},{"x":5.7,"c":2.75}]
},
"vconcat": [
 {
  "width": 994, "height": 560,
  "encoding": {
   "x": {"field": "t", "type": "quantitative", "scale": {"domain": [459.7, 8476], "nice": false, "zero": false}, "axis": null},
   "y": {"field": "v", "type": "quantitative", "scale": {"domain": [-26.8, 45], "nice": false, "zero": false}, "axis": null}
  },
  "layer": [
   {"data": {"name": "grid"}, "mark": {"type": "rule", "color": "#404040", "strokeWidth": 1.3}, "encoding": {"x2": {"field": "t2"}, "y2": {"field": "v2"}}},
   {"data": {"name": "cond"}, "transform": [{"filter": "datum.g == 'b'"}], "mark": {"type": "rule", "color": "#24508f", "strokeWidth": 3.5}, "encoding": {"x2": {"field": "t2"}, "y2": {"field": "v2"}}},
   {"data": {"name": "cond"}, "transform": [{"filter": "datum.g == 'r'"}], "mark": {"type": "rule", "color": "#ff1f1f", "strokeWidth": 3.5}, "encoding": {"x2": {"field": "t2"}, "y2": {"field": "v2"}}},
   {"data": {"name": "trace"}, "mark": {"type": "line", "color": "#000000", "strokeWidth": 2.2}},
   {"data": {"name": "gray"}, "mark": {"type": "line", "color": "#878787", "strokeWidth": 1.9}},
   {"data": {"name": "red"}, "mark": {"type": "line", "color": "#ff0000", "strokeWidth": 1.7}},
   {"data": {"name": "conn"}, "transform": [{"filter": "datum.g == 'b'"}], "mark": {"type": "rule", "color": "#4d72aa", "strokeWidth": 1.5, "strokeDash": [5, 4]}, "encoding": {"x2": {"field": "t2"}, "y2": {"field": "v2"}}},
   {"data": {"name": "conn"}, "transform": [{"filter": "datum.g == 'r'"}], "mark": {"type": "rule", "color": "#ff4545", "strokeWidth": 1.5, "strokeDash": [5, 4]}, "encoding": {"x2": {"field": "t2"}, "y2": {"field": "v2"}}},
   {"data": {"name": "sbar"}, "mark": {"type": "rule", "color": "#000000", "strokeWidth": 1.5}, "encoding": {"x2": {"field": "t2"}, "y2": {"field": "v2"}}},
   {"data": {"name": "lab"}, "transform": [{"filter": "datum.k == 'p'"}], "mark": {"type": "text", "fontSize": 28, "align": "center", "baseline": "middle", "color": "#111111"}, "encoding": {"text": {"field": "txt"}}},
   {"data": {"name": "lab"}, "transform": [{"filter": "datum.k == 'c'"}], "mark": {"type": "text", "fontSize": 22, "align": "center", "baseline": "middle", "color": "#111111"}, "encoding": {"text": {"field": "txt"}}},
   {"data": {"name": "lab"}, "transform": [{"filter": "datum.k == 'l'"}], "mark": {"type": "text", "fontSize": 17, "align": "left", "baseline": "middle", "color": "#111111"}, "encoding": {"text": {"field": "txt"}}},
   {"data": {"name": "lab"}, "transform": [{"filter": "datum.k == 's'"}], "mark": {"type": "text", "fontSize": 17, "align": "center", "baseline": "middle", "color": "#111111"}, "encoding": {"text": {"field": "txt"}}}
  ]
 },
 {
  "spacing": 24,
  "hconcat": [
   {
    "width": 398, "height": 202,
    "title": {"text": " B", "anchor": "start", "frame": "group", "fontSize": 28, "fontWeight": "normal", "dx": -137, "offset": -17, "baseline": "alphabetic", "color": "#111111"},
    "encoding": {
     "x": {"field": "x", "type": "quantitative", "scale": {"domain": [-2.53, 6.0], "nice": false, "zero": false}, "axis": {"title": "Currents (pA)", "values": [-2, 0, 2, 4, 6], "labelExpr": "datum.value + ''", "tickSize": 7, "labelPadding": 2, "titlePadding": 3}},
     "y": {"field": "c", "type": "quantitative", "scale": {"domain": [0, 100], "nice": false}, "axis": {"title": "Counts", "values": [0, 20, 40, 60, 80, 100], "tickSize": 10, "labelPadding": 4, "titlePadding": 2}}
    },
    "layer": [
     {"data": {"name": "hl"}, "mark": {"type": "bar", "width": 4.8, "color": "#7a7a7a"}},
     {"data": {"name": "hlfit"}, "mark": {"type": "line", "color": "#000000", "strokeWidth": 3, "interpolate": "monotone"}}
    ]
   },
   {
    "width": 397, "height": 199,
    "encoding": {
     "x": {"field": "x", "type": "quantitative", "scale": {"domain": [-3.6, 6.04], "nice": false, "zero": false}, "axis": {"title": "Currents (pA)", "values": [-2, 0, 2, 4, 6], "labelExpr": "datum.value + ''", "tickSize": 11, "labelPadding": 4, "titlePadding": 3}},
     "y": {"field": "c", "type": "quantitative", "scale": {"domain": [0, 200], "nice": false}, "axis": {"title": "Counts", "values": [0, 50, 100, 150, 200], "tickSize": 10, "labelPadding": 5, "titlePadding": 10}}
    },
    "layer": [
     {"data": {"name": "hr"}, "mark": {"type": "bar", "width": 4.25, "color": "#ff0000"}},
     {"data": {"name": "hrfit"}, "mark": {"type": "line", "color": "#000000", "strokeWidth": 3, "interpolate": "monotone"}}
    ]
   }
  ]
 }
]
}
